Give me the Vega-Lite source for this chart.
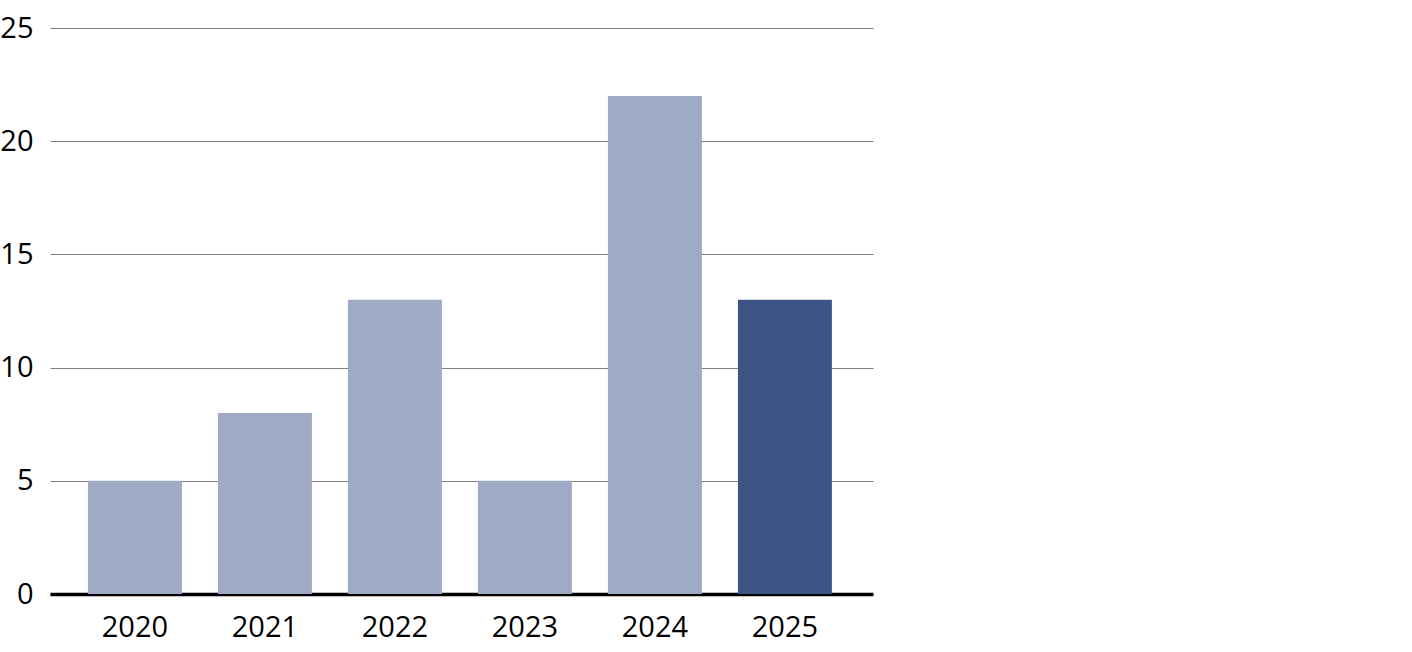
{
  "$schema": "https://vega.github.io/schema/vega-lite/v6.json",
  "autosize": {"type": "none"},
  "width": 823,
  "height": 566,
  "padding": {"left": 50, "top": 28, "right": 539, "bottom": 58},
  "background": "white",
  "config": {"view": {"stroke": null}},
  "data": {"values": [
    {"year": "2020", "value": 5},
    {"year": "2021", "value": 8},
    {"year": "2022", "value": 13},
    {"year": "2023", "value": 5},
    {"year": "2024", "value": 22},
    {"year": "2025", "value": 13}
  ]},
  "mark": {"type": "bar"},
  "encoding": {
    "x": {
      "field": "year", "type": "nominal", "sort": null,
      "scale": {"paddingInner": 0.277, "paddingOuter": 0.304, "align": 0.48},
      "axis": {
        "title": null, "labelAngle": 0, "ticks": false,
        "domainColor": "#000000", "domainWidth": 3.5,
        "labelFont": "Open Sans", "labelFontSize": 29, "labelColor": "#000000",
        "labelPadding": 19
      }
    },
    "y": {
      "field": "value", "type": "quantitative",
      "scale": {"domain": [0, 25]},
      "axis": {
        "title": null, "values": [0, 5, 10, 15, 20, 25], "domain": false, "ticks": false,
        "gridColor": "#808080", "gridWidth": 1, "gridOpacity": 1,
        "labelFont": "Open Sans", "labelFontSize": 29, "labelColor": "#000000",
        "labelPadding": 17
      }
    },
    "color": {
      "field": "year", "type": "nominal", "legend": null,
      "scale": {
        "domain": ["2020", "2021", "2022", "2023", "2024", "2025"],
        "range": ["#9FAAC4", "#9FAAC4", "#9FAAC4", "#9FAAC4", "#9FAAC4", "#3C5585"]
      }
    }
  }
}
